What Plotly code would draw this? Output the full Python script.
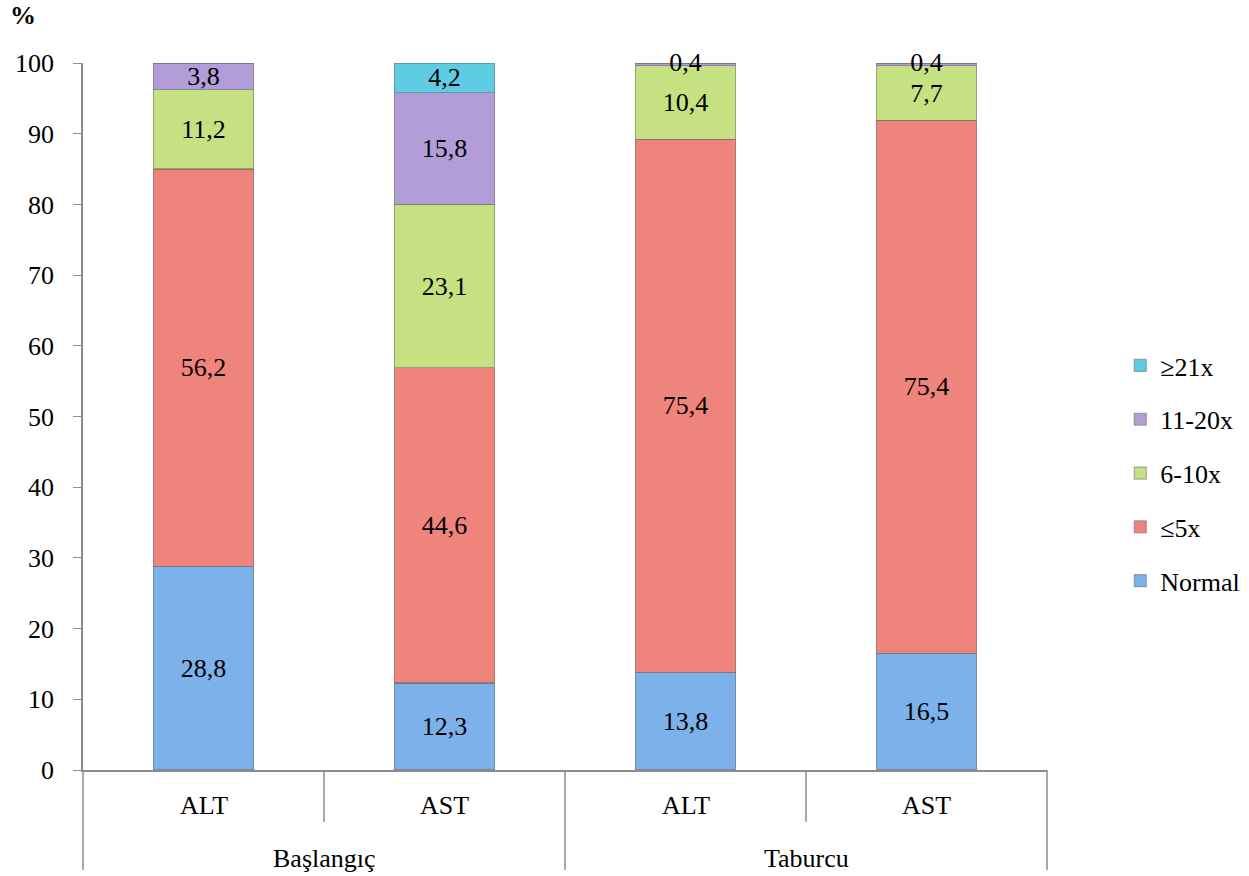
import plotly.graph_objects as go

groups = ["Başlangıç", "Başlangıç", "Taburcu", "Taburcu"]
tests = ["ALT", "AST", "ALT", "AST"]
group_labels = ["Başlangıç", "Taburcu"]

series_names = ["Normal", "≤5x", "6-10x", "11-20x", "≥21x"]
normal = [28.8, 12.3, 13.8, 16.5]
le5x = [56.2, 44.6, 75.4, 75.4]
x6_10 = [11.2, 23.1, 10.4, 7.7]
x11_20 = [3.8, 15.8, 0.4, 0.4]
ge21x = [0, 4.2, 0, 0]
series_values = [normal, le5x, x6_10, x11_20, ge21x]
colors = ["#7cb1ea", "#ef847d", "#c6e182", "#b39dd9", "#5ecce3"]

FONT = "Liberation Serif"
FS = 26
GRAY = "#8c8c8c"


def fmt(v):
    return ("%.1f" % v).replace(".", ",")


fig = go.Figure()
n = len(series_names)
base = [0.0] * len(tests)
small_x0, small_x1, small_y, small_t = [], [], [], []
for i, (name, vals, col) in enumerate(zip(series_names, series_values, colors)):
    txt = []
    for j, v in enumerate(vals):
        if v >= 1:
            txt.append(fmt(v))
        else:
            txt.append("")
            if v > 0:
                small_x0.append(groups[j])
                small_x1.append(tests[j])
                small_y.append(base[j] + v / 2)
                small_t.append(fmt(v))
        base[j] += v
    fig.add_trace(go.Bar(
        x=[groups, tests], y=vals, name=name,
        legendgroup=name, legendrank=n - i,
        marker=dict(color=col, line=dict(color="rgba(110,110,110,0.55)", width=1.2)),
        text=txt, textposition="inside", insidetextanchor="middle",
        constraintext="none", textangle=0, cliponaxis=False,
        textfont=dict(family=FONT, size=FS, color="black"),
        hoverinfo="skip",
    ))

fig.add_trace(go.Scatter(
    x=[small_x0, small_x1], y=small_y, text=small_t, mode="text",
    textposition="middle center", showlegend=False, cliponaxis=False,
    textfont=dict(family=FONT, size=FS, color="black"), hoverinfo="skip",
))

fig.update_layout(
    width=1249, height=876,
    barmode="stack", bargap=0.585,
    plot_bgcolor="white", paper_bgcolor="white",
    margin=dict(l=83, r=202, t=63, b=106, autoexpand=False),
    font=dict(family=FONT, size=FS, color="black"),
    showlegend=True,
    legend=dict(
        traceorder="grouped", tracegroupgap=17,
        x=1.076, xanchor="left", y=0.42, yanchor="middle",
        font=dict(family=FONT, size=FS, color="black"),
        bgcolor="rgba(0,0,0,0)",
    ),
)
fig.update_yaxes(
    range=[0, 100], tick0=0, dtick=10,
    showgrid=False, zeroline=False,
    showline=True, linecolor=GRAY, linewidth=1.5,
    ticks="outside", ticklen=8, tickcolor=GRAY,
    ticklabelstandoff=14,
    tickfont=dict(family=FONT, size=FS),
)
fig.update_xaxes(
    type="multicategory",
    showgrid=False,
    showline=True, linecolor=GRAY, linewidth=1.5,
    ticks="", showticklabels=False, showdividers=False,
)

# category axis labels and dividers (axis decoration in paper coordinates)
H = 707.0
ncat = len(tests)
for k, lab in enumerate(tests):
    fig.add_annotation(
        text=lab, xref="paper", yref="paper", x=(k + 0.5) / ncat, y=-35 / H,
        xanchor="center", yanchor="middle", showarrow=False,
        font=dict(family=FONT, size=FS, color="black"),
    )
ng = len(group_labels)
for k, lab in enumerate(group_labels):
    fig.add_annotation(
        text=lab, xref="paper", yref="paper", x=(k + 0.5) / ng, y=-88 / H,
        xanchor="center", yanchor="middle", showarrow=False,
        font=dict(family=FONT, size=FS, color="black"),
    )
for k in range(ncat + 1):
    long = (k % 2 == 0)
    fig.add_shape(
        type="line", xref="paper", yref="paper",
        x0=k / ncat, x1=k / ncat, y0=0, y1=(-100 if long else -52) / H,
        line=dict(color=GRAY, width=1.5),
    )

fig.add_annotation(
    text="<b>%</b>", xref="paper", yref="paper", x=-60 / 964, y=(770 - 15) / H,
    xanchor="center", yanchor="middle", showarrow=False,
    font=dict(family=FONT, size=FS, color="black"),
)

fig.write_html("out.html")
